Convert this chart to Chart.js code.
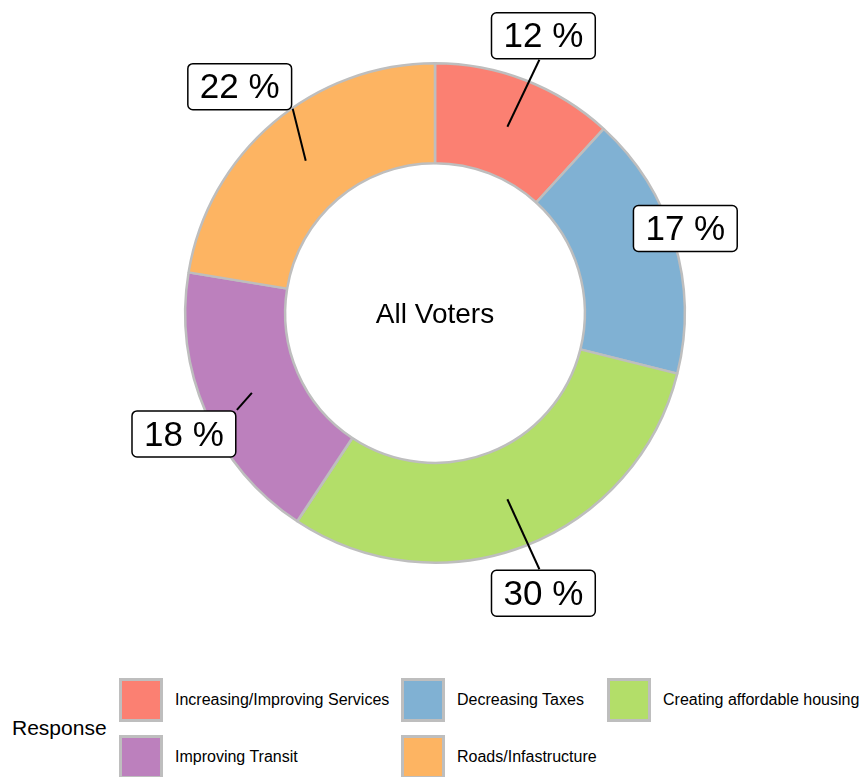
<!DOCTYPE html>
<html>
<head>
<meta charset="utf-8">
<script src="https://cdn.jsdelivr.net/npm/chart.js@4.4.0/dist/chart.umd.min.js"></script>
<style>
    body { margin: 0; background: #fff; font-family: "Liberation Sans", Arial, sans-serif; }
    #wrap { position: relative; width: 863px; height: 777px; overflow: hidden; }
    #chart { position: absolute; left: 0; top: 0; }
    .legend-title { position: absolute; left: 12px; top: 716px; font-size: 21px; color: #000; }
    .legend-item { position: absolute; height: 44px; display: flex; align-items: center; }
    .legend-swatch { width: 44px; height: 44px; box-sizing: border-box; border: 3px solid #BEBEBE; margin-right: 12px; }
    .legend-text { font-size: 16px; color: #000; white-space: nowrap; }
</style>
</head>
<body>
<div id="wrap">
    <canvas id="chart" width="863" height="650"></canvas>
    <div class="legend-title">Response</div>
    <div id="legend"></div>
</div>
<script>
const categories = ['Increasing/Improving Services', 'Decreasing Taxes', 'Creating affordable housing', 'Improving Transit', 'Roads/Infastructure'];
const values = [11.8, 17.1, 30.4, 18.3, 22.4];
const colors = ['#FB8072', '#80B1D3', '#B3DE69', '#BC80BD', '#FDB462'];
const centerText = 'All Voters';

// label box offset from slice anchor [dx, dy], and where the leader line meets the box (relative to box centre)
const labelOffsets = [
    [36, -91, -4, 24],
    [59, -27, null, null],
    [36, 94, -4, -24],
    [-68, 41, 53, -24],
    [-66, -74, 53, 22]
];

const labelBoxes = {
    id: 'labelBoxes',
    afterDatasetsDraw(chart) {
        const ctx = chart.ctx;
        const meta = chart.getDatasetMeta(0);
        ctx.save();
        meta.data.forEach((arc, i) => {
            const mid = (arc.startAngle + arc.endAngle) / 2;
            const r = (arc.innerRadius + arc.outerRadius) / 2;
            const ax = arc.x + Math.cos(mid) * r;
            const ay = arc.y + Math.sin(mid) * r;
            const o = labelOffsets[i];
            const cx = ax + o[0];
            const cy = ay + o[1];
            const text = Math.round(values[i]) + ' %';
            ctx.font = '35px "Liberation Sans", Arial, sans-serif';
            const w = ctx.measureText(text).width + 24;
            const h = 46;

            if (o[2] !== null) {
                ctx.beginPath();
                ctx.moveTo(ax, ay);
                ctx.lineTo(cx + o[2], cy + o[3]);
                ctx.strokeStyle = '#000';
                ctx.lineWidth = 2;
                ctx.stroke();
            }

            ctx.beginPath();
            ctx.roundRect(cx - w / 2, cy - h / 2, w, h, 5);
            ctx.fillStyle = '#fff';
            ctx.fill();
            ctx.strokeStyle = '#000';
            ctx.lineWidth = 1.5;
            ctx.stroke();

            ctx.fillStyle = '#000';
            ctx.textAlign = 'center';
            ctx.textBaseline = 'middle';
            ctx.fillText(text, cx, cy + 2);
        });

        const arc0 = meta.data[0];
        ctx.font = '28px "Liberation Sans", Arial, sans-serif';
        ctx.fillStyle = '#000';
        ctx.textAlign = 'center';
        ctx.textBaseline = 'middle';
        ctx.fillText(centerText, arc0.x, arc0.y + 2);
        ctx.restore();
    }
};

new Chart(document.getElementById('chart'), {
    type: 'doughnut',
    data: {
        labels: categories,
        datasets: [{
            data: values,
            backgroundColor: colors,
            borderColor: '#BEBEBE',
            borderWidth: 2.5,
            hoverOffset: 0
        }]
    },
    options: {
        responsive: false,
        animation: false,
        devicePixelRatio: 1,
        cutout: '60%',
        layout: { padding: { left: 184, right: 177, top: 61, bottom: 85 } },
        plugins: {
            legend: { display: false },
            tooltip: { enabled: false }
        }
    },
    plugins: [labelBoxes]
});

// legend grid, 3 columns
const legendCols = [119, 401, 607];
const legendRows = [678, 735];
const legendEl = document.getElementById('legend');
categories.forEach((name, i) => {
    const item = document.createElement('div');
    item.className = 'legend-item';
    item.style.left = legendCols[i % 3] + 'px';
    item.style.top = legendRows[Math.floor(i / 3)] + 'px';
    item.innerHTML = `<div class="legend-swatch" style="background:${colors[i]}"></div><span class="legend-text">${name}</span>`;
    legendEl.appendChild(item);
});
</script>
</body>
</html>
